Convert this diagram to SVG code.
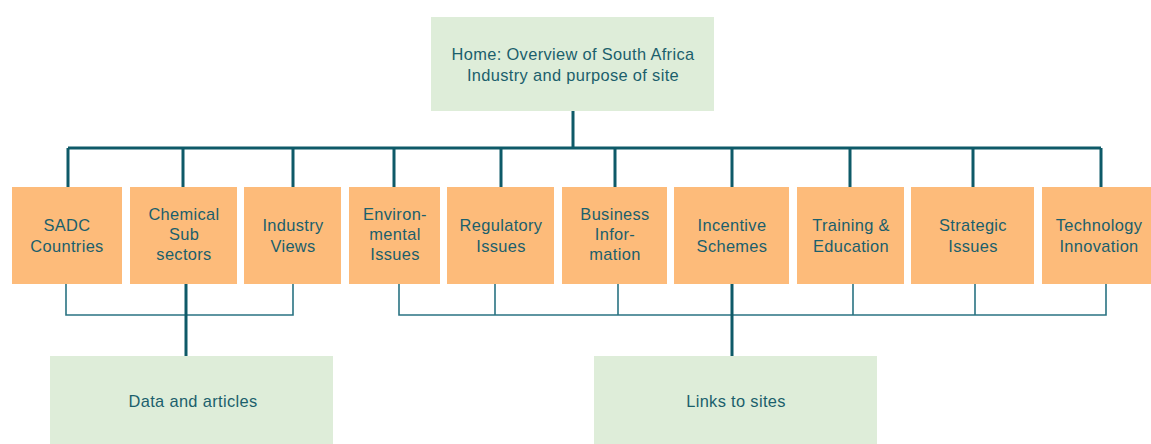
<svg xmlns="http://www.w3.org/2000/svg" width="1151" height="444" viewBox="0 0 1151 444">
<style>
.g{fill:#DEEDD9}
.o{fill:#FDBB7A}
text{font-family:"Liberation Sans",Arial,sans-serif;font-size:16.4px;letter-spacing:0.35px;fill:#1B5F6C;text-anchor:middle}
.bus{stroke:#0E5A68;stroke-width:3;fill:none}
.thin{stroke:#2A7382;stroke-width:1.6;fill:none}
</style>
<rect width="1151" height="444" fill="#fff"/>
<g id="connectors">
<path class="bus" d="M573 111V148M68 148H1101M68 148V187M183 148V187M293 148V187M394 148V187M501 148V187M615 148V187M732 148V187M850 148V187M973 148V187M1101 148V187"/>
<path class="thin" d="M66 284V315H293V284M399 284V315H1106V284M495 284V315M618 284V315M853 284V315M975 284V315"/>
<path class="bus" d="M186 284V356M732 284V356"/>
</g>
<g id="home"><rect class="g" x="431" y="17" width="283" height="94"/><text x="573" y="60">Home: Overview of South Africa</text><text x="573" y="81">Industry and purpose of site</text></g>
<g id="sadc"><rect class="o" x="12" y="187" width="110" height="97"/><text x="67" y="231">SADC</text><text x="67" y="252">Countries</text></g>
<g id="chemical"><rect class="o" x="130" y="187" width="107" height="97"/><text x="184" y="220">Chemical</text><text x="184" y="240">Sub</text><text x="184" y="260">sectors</text></g>
<g id="industry"><rect class="o" x="244" y="187" width="97" height="97"/><text x="293" y="231">Industry</text><text x="293" y="252">Views</text></g>
<g id="environ"><rect class="o" x="349" y="187" width="91" height="97"/><text x="395" y="220">Environ-</text><text x="395" y="240">mental</text><text x="395" y="260">Issues</text></g>
<g id="regulatory"><rect class="o" x="447" y="187" width="107" height="97"/><text x="501" y="231">Regulatory</text><text x="501" y="252">Issues</text></g>
<g id="business"><rect class="o" x="562" y="187" width="105" height="97"/><text x="615" y="220">Business</text><text x="615" y="240">Infor-</text><text x="615" y="260">mation</text></g>
<g id="incentive"><rect class="o" x="674" y="187" width="115" height="97"/><text x="732" y="231">Incentive</text><text x="732" y="252">Schemes</text></g>
<g id="training"><rect class="o" x="797" y="187" width="107" height="97"/><text x="851" y="231">Training &amp;</text><text x="851" y="252">Education</text></g>
<g id="strategic"><rect class="o" x="911" y="187" width="123" height="97"/><text x="973" y="231">Strategic</text><text x="973" y="252">Issues</text></g>
<g id="technology"><rect class="o" x="1042" y="187" width="109" height="97"/><text x="1099" y="231">Technology</text><text x="1099" y="252">Innovation</text></g>
<g id="data"><rect class="g" x="50" y="356" width="283" height="88"/><text x="193" y="407">Data and articles</text></g>
<g id="links"><rect class="g" x="594" y="356" width="283" height="88"/><text x="736" y="407">Links to sites</text></g>
</svg>
